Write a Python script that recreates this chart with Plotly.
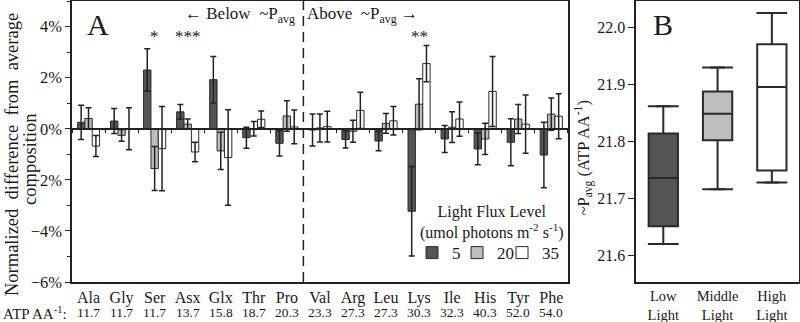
import plotly.graph_objects as go

# ---------------- data ----------------
amino_acids = ["Ala", "Gly", "Ser", "Asx", "Glx", "Thr", "Pro", "Val",
               "Arg", "Leu", "Lys", "Ile", "His", "Tyr", "Phe"]
atp_cost = ["11.7", "11.7", "11.7", "13.7", "15.8", "18.7", "20.3", "23.3",
            "27.3", "27.3", "30.3", "32.3", "40.3", "52.0", "54.0"]

flux_5 = [0.25, 0.30, 2.30, 0.66, 1.92, -0.35, -0.57, -0.05, -0.42, -0.48,
          -3.23, -0.40, -0.79, -0.53, -1.03]
flux_5_err = [0.67, 0.49, 0.83, 0.29, 0.91, 0.41, 0.50, 0.63, 0.33, 0.38,
              1.75, 0.53, 0.62, 0.92, 1.28]
flux_20 = [0.40, -0.26, -1.56, 0.18, -0.87, 0.00, 0.50, 0.03, -0.10, 0.21,
           0.96, 0.06, -0.40, 0.38, 0.57]
flux_20_err = [0.42, 0.23, 0.86, 0.20, 0.73, 0.28, 0.60, 0.55, 0.43, 0.39,
               1.00, 0.60, 0.61, 0.57, 0.63]
flux_35 = [-0.68, 0.00, -0.78, -0.91, -1.13, 0.37, 0.07, 0.08, 0.72, 0.31,
           2.55, 0.38, 1.46, 0.18, 0.49]
flux_35_err = [0.41, 0.82, 1.65, 0.38, 1.87, 0.32, 0.66, 0.60, 0.71, 0.56,
               0.71, 0.67, 1.37, 1.14, 0.88]

flux_names = ["5", "20", "35"]
sig_marks = {"Ser": "*", "Asx": "***", "Lys": "**"}

light_groups = ["Low<br>Light", "Middle<br>Light", "High<br>Light"]
box_lower = [21.620, 21.716, 21.728]
box_q1 = [21.651, 21.802, 21.749]
box_median = [21.736, 21.849, 21.896]
box_q3 = [21.814, 21.888, 21.971]
box_upper = [21.862, 21.930, 22.026]

# ---------------- style ----------------
FONT = "Liberation Serif"
fills = ["#555555", "#bdbdbd", "#ffffff"]
edge = "#2a2a2a"
ink = "#1a1a1a"
legend_ids = ["legend", "legend2", "legend3"]
legend_x = [0.4677, 0.5296, 0.5915]

fig = go.Figure()

series = [(flux_5, flux_5_err), (flux_20, flux_20_err), (flux_35, flux_35_err)]
for (vals, errs), name, col, lg in zip(series, flux_names, fills, legend_ids):
    fig.add_trace(go.Bar(
        x=amino_acids, y=vals, name=name, xaxis="x", yaxis="y",
        marker=dict(color=col, line=dict(color=edge, width=1)),
        error_y=dict(type="data", array=errs, color="#222222",
                     thickness=1.5, width=3),
        showlegend=True, legend=lg,
    ))

# dummy trace for the zero-line axis with boundary ticks
fig.add_trace(go.Scatter(x=amino_acids, y=[0] * len(amino_acids), xaxis="x3",
                         yaxis="y", mode="none", showlegend=False,
                         hoverinfo="skip"))

# box plot panel B
for i, grp in enumerate(light_groups):
    fig.add_trace(go.Box(
        x=[grp], q1=[box_q1[i]], median=[box_median[i]], q3=[box_q3[i]],
        lowerfence=[box_lower[i]], upperfence=[box_upper[i]],
        xaxis="x2", yaxis="y2", fillcolor=fills[i],
        line=dict(color=edge, width=2), width=0.54, showlegend=False,
        boxpoints=False, hoverinfo="skip",
    ))
# whisker caps
fig.add_trace(go.Scatter(
    x=light_groups + light_groups, y=box_lower + box_upper,
    xaxis="x2", yaxis="y2", mode="markers", showlegend=False,
    marker=dict(symbol="line-ew", size=22, line=dict(color=edge, width=2)),
    hoverinfo="skip",
))

yrange = [-6, 5]
zero_pos = (0 - yrange[0]) / (yrange[1] - yrange[0])
left_dom = [0, 0.682]
right_dom = [0.776, 1.0]

legend_common = dict(orientation="h", xanchor="left", y=0.103,
                     yanchor="middle", bgcolor="rgba(0,0,0,0)",
                     font=dict(size=17, family=FONT, color=ink))

fig.update_layout(
    width=800, height=322,
    margin=dict(l=72, r=1, t=1, b=40, autoexpand=False),
    paper_bgcolor="white", plot_bgcolor="white",
    font=dict(family=FONT, size=16, color=ink),
    barmode="group", bargap=0.33, bargroupgap=0,
    xaxis=dict(domain=left_dom, anchor="y", type="category",
               range=[-0.5, len(amino_acids) - 0.5], automargin=False,
               showline=True, linecolor="#222222", linewidth=1.5, mirror=True,
               ticks="", tickfont=dict(size=16), showgrid=False),
    xaxis3=dict(overlaying="x", matches="x", anchor="free", position=zero_pos,
                type="category", showline=True, linecolor="#222222",
                linewidth=1.5, ticks="outside", ticklen=4, tickwidth=1.2,
                tickcolor="#222222", tickson="boundaries", automargin=False,
                showticklabels=False, showgrid=False),
    yaxis=dict(domain=[0, 1], anchor="x", range=yrange, dtick=2, tick0=0,
               ticksuffix="%", showline=True, linecolor="#222222",
               linewidth=1.5, mirror=True, ticks="outside", ticklen=5,
               tickcolor="#222222", showgrid=False, zeroline=False,
               tickfont=dict(size=16.5), automargin=False,
               minor=dict(dtick=1, ticks="outside", ticklen=3,
                          tickcolor="#222222")),
    xaxis2=dict(domain=right_dom, anchor="y2", type="category",
                range=[-0.5, 2.5], showline=True, linecolor="#222222",
                linewidth=1.5, mirror=True, ticks="", showgrid=False,
                tickfont=dict(size=14.5), automargin=False),
    yaxis2=dict(domain=[0, 1], anchor="x2", range=[21.553, 22.047],
                tickvals=[21.6, 21.7, 21.8, 21.9, 22.0],
                tickformat=".1f", showline=True, linecolor="#222222",
                linewidth=1.5, mirror=True, ticks="outside", ticklen=6,
                tickcolor="#222222", showgrid=False, zeroline=False,
                tickfont=dict(size=16), automargin=False),
    legend=dict(x=legend_x[0], **legend_common),
    legend2=dict(x=legend_x[1], **legend_common),
    legend3=dict(x=legend_x[2], **legend_common),
)

# dashed divider between below / above average
div_x = amino_acids.index("Val") - 0.5
fig.add_shape(type="line", xref="x", yref="paper", x0=div_x, x1=div_x,
              y0=0, y1=1, line=dict(color="#222222", width=1.5,
                                    dash="10px,6px"))

ann = []


def add(text, x, y, size, xref="paper", yref="paper", **kw):
    d = dict(text=text, x=x, y=y, xref=xref, yref=yref, showarrow=False,
             xanchor=kw.pop("xanchor", "center"),
             yanchor=kw.pop("yanchor", "middle"),
             font=dict(size=size, family=FONT, color=ink))
    d.update(kw)
    ann.append(d)


add("A", 0.036, 0.915, 30)
add("B", 0.813, 0.915, 30)
add("\u2190 Below  ~P<sub>avg</sub>", 0.231, 0.95, 17)
add("Above  ~P<sub>avg</sub> \u2192", 0.399, 0.95, 17)
for aa, mark in sig_marks.items():
    add(mark, aa, 3.6, 17, xref="x", yref="y")
for aa, cost in zip(amino_acids, atp_cost):
    add(cost, aa, -0.11, 13.5, xref="x")
add("ATP AA<sup>-1</sup>:", -0.004, -0.11, 15, xanchor="right")
add("Normalized\u00a0 difference\u00a0 from\u00a0 average",
    -0.0825, 0.452, 18.5, textangle=-90)
add("composition", -0.0578, 0.438, 18.5, textangle=-90)
add("~P<sub>avg</sub> (ATP AA<sup>-1</sup>)", 0.703, 0.44, 16.5,
    textangle=-90)
add("Light Flux Level<br>(umol photons m<sup>-2</sup> s<sup>-1</sup>)",
    0.578, 0.21, 16)
fig.update_layout(annotations=ann)

fig.write_html("out.html", config={"displayModeBar": False},
               post_script="document.body.style.margin='0px';"
                           "document.body.style.padding='0px';")
